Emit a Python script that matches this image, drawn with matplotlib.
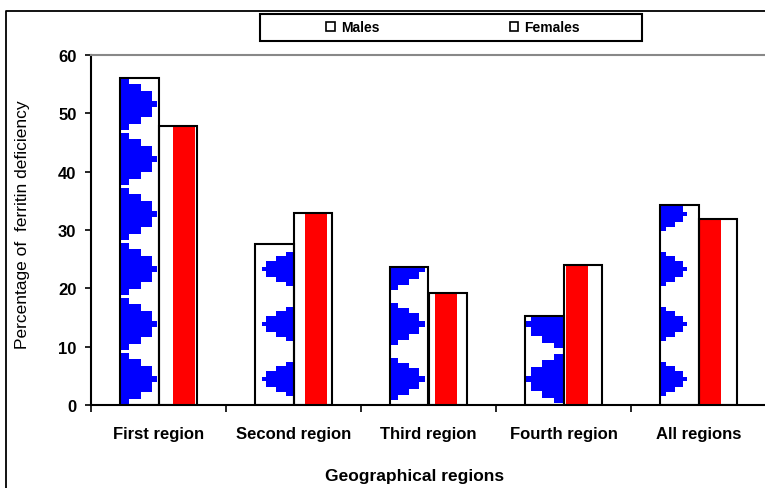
import matplotlib
matplotlib.use('Agg')
import numpy as np
import matplotlib.pyplot as plt
from matplotlib.patches import Rectangle, Patch
from matplotlib.lines import Line2D

plt.rcParams['font.family'] = ['Liberation Sans', 'DejaVu Sans']

regions = ["First region", "Second region", "Third region", "Fourth region", "All regions"]
males = [56.0, 27.6, 23.7, 15.2, 34.3]
females = [47.8, 32.9, 19.2, 24.0, 31.9]
yticks = [0, 10, 20, 30, 40, 50, 60]

# look of the fills (blue stepped arrows on males, red stripe on females)
male_side = ['left', 'right', 'left', 'right', 'left']
male_reach = [0.97, 0.83, 0.90, 1.0, 0.69]
male_span = [4.5, 2.9, 3.6, 4.2, 2.9]
arrow_period = 9.43
arrow_phase = 4.46
step_height = [0.13, 0.5, 0.77, 1.0]
step_width = [1.0, 0.85, 0.55, 0.24]
stripe_start = [0.38, 0.30, 0.18, 0.07, 0.02]
stripe_width = 0.57

BLUE = '#0000FF'
RED = '#FF0000'
bw = 0.285

fig = plt.figure(figsize=(7.65, 4.89), dpi=100)
ax = fig.add_axes([91 / 765, 83 / 489, 676 / 765, 350 / 489])

x = np.arange(len(regions))

# white bodies first, fills on top, outlines last
ax.bar(x - bw, males, bw, align='edge', color='white', zorder=2)
ax.bar(x, females, bw, align='edge', color='white', zorder=2)

for i in range(len(regions)):
    left = x[i] - bw
    h = males[i]
    tips = np.arange(arrow_phase, h + male_span[i] + arrow_period, arrow_period)
    for t in tips:
        for sh, sw in zip(step_height, step_width):
            y0 = max(t - sh * male_span[i], 0)
            y1 = min(t + sh * male_span[i], h)
            if y1 <= y0:
                continue
            w = sw * male_reach[i] * bw
            x0 = left if male_side[i] == 'left' else left + bw - w
            ax.add_patch(Rectangle((x0, y0), w, y1 - y0, facecolor=BLUE,
                                   edgecolor='none', zorder=3))

    s0 = x[i] + stripe_start[i] * bw
    s1 = x[i] + min(stripe_start[i] + stripe_width, 1.0) * bw
    ax.add_patch(Rectangle((s0, 0), s1 - s0, females[i], facecolor=RED,
                           edgecolor='none', zorder=3))

ax.bar(x - bw, males, bw, align='edge', facecolor='none', edgecolor='black',
       linewidth=1.5, zorder=4)
ax.bar(x, females, bw, align='edge', facecolor='none', edgecolor='black',
       linewidth=1.5, zorder=4)

ax.set_xlim(-0.5, -0.5 + 676 / 135)
ax.set_ylim(0, 60)

ax.set_yticks(yticks)
ax.set_yticklabels([str(v) for v in yticks], fontsize=12, fontweight='bold')
ax.tick_params(axis='y', direction='out', length=4.5, width=1.2, pad=6)

ax.set_xticks(np.arange(-0.5, len(regions) - 0.5, 1.0))
ax.set_xticklabels([])
ax.set_xticks(x, minor=True)
ax.set_xticklabels(regions, minor=True, fontsize=12, fontweight='bold')
ax.tick_params(axis='x', which='major', direction='out', length=5, width=1.2)
ax.tick_params(axis='x', which='minor', length=0, pad=15)

for side in ['left', 'bottom']:
    ax.spines[side].set_linewidth(1.5)
ax.spines['top'].set_color('#888888')
ax.spines['top'].set_linewidth(1.5)
ax.spines['right'].set_visible(False)

fig.text(23 / 765, 1 - 225 / 489, "Percentage of  ferritin deficiency",
         rotation=90, ha='center', va='center', fontsize=12.5)
fig.text(415 / 765, 1 - 477 / 489, "Geographical regions",
         ha='center', va='center', fontsize=12.5, fontweight='bold')

# legend box and entries
fig.patches.append(Rectangle((260 / 765, 1 - 42 / 489), 382 / 765, 27 / 489,
                             transform=fig.transFigure, facecolor='white',
                             edgecolor='black', linewidth=1.5))
handles = [Patch(facecolor='white', edgecolor='black', linewidth=1.2, label='Males'),
           Patch(facecolor='white', edgecolor='black', linewidth=1.2, label='Females')]
fig.legend(handles=handles, loc='center', bbox_to_anchor=(453 / 765, 1 - 28.5 / 489),
           ncol=2, frameon=False, prop={'weight': 'bold', 'size': 10},
           handlelength=0.63, handleheight=0.63, handletextpad=0.4,
           columnspacing=9.4, borderpad=0)

# outer frame
fig.add_artist(Line2D([6.5 / 765, 6.5 / 765, 1], [0, 1 - 11.5 / 489, 1 - 11.5 / 489],
                      transform=fig.transFigure, color='black', linewidth=1.3))

fig.savefig('out.png', dpi=100)
